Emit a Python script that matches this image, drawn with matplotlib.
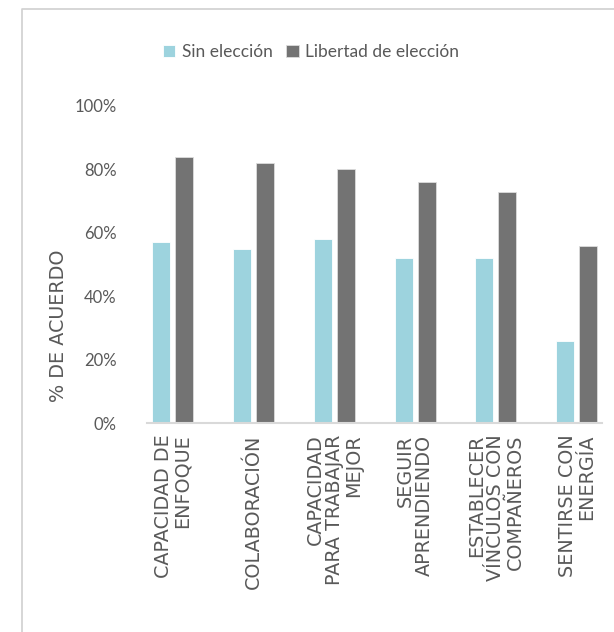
import numpy as np
import matplotlib.pyplot as plt
from matplotlib.lines import Line2D
from matplotlib.ticker import PercentFormatter

# ===== DATA =====
categories = [
    "CAPACIDAD DE\nENFOQUE",
    "COLABORACIÓN",
    "CAPACIDAD\nPARA TRABAJAR\nMEJOR",
    "SEGUIR\nAPRENDIENDO",
    "ESTABLECER\nVÍNCULOS CON\nCOMPAÑEROS",
    "SENTIRSE CON\nENERGÍA",
]
sin_eleccion = [57, 55, 58, 52, 52, 26]
libertad = [84, 82, 80, 76, 73, 56]
series_names = ["Sin elección", "Libertad de elección"]
y_ticks = [0, 20, 40, 60, 80, 100]

# ===== STYLE =====
plt.rcParams["font.family"] = ["Lato", "DejaVu Sans"]
text_color = "#595959"
light = "#9dd3de"
dark = "#737373"
caps_font = "DejaVu Sans"

fig = plt.figure(figsize=(6.14, 6.32), dpi=100)
ax = fig.add_axes([0.240, 0.330, 0.740, 0.5023])

x = np.arange(len(categories))
w = 0.223
off = 0.142
b1 = ax.bar(x - off, sin_eleccion, width=w, color=light, edgecolor="white", linewidth=0.6)
b2 = ax.bar(x + off, libertad, width=w, color=dark, edgecolor="#dddddd", linewidth=0.6)

ax.set_xlim(-0.315, len(categories) - 1 + 0.31)
ax.set_ylim(0, 100)
ax.set_yticks(y_ticks)
ax.yaxis.set_major_formatter(PercentFormatter(decimals=0))
ax.tick_params(axis="y", length=0, pad=22, labelsize=12, labelcolor=text_color)

ax.set_xticks(x)
ax.set_xticklabels(categories, rotation=90, ha="center", va="top",
                   multialignment="right", linespacing=1.0, family=caps_font,
                   fontsize=13.8)
ax.tick_params(axis="x", length=0, pad=8, labelcolor=text_color)

for s in ["top", "right", "left"]:
    ax.spines[s].set_visible(False)
ax.spines["bottom"].set_color("#d9d9d9")
ax.spines["bottom"].set_linewidth(1.5)

fig.text(0.095, 0.484, "% DE ACUERDO", rotation=90, ha="center", va="center",
         fontsize=13.8, color=text_color, family=caps_font)

fig.legend([b1, b2], series_names, loc="center", bbox_to_anchor=(0.5065, 0.918),
           ncol=2, frameon=False, fontsize=12.5, labelcolor=text_color,
           handlelength=0.7, handleheight=0.7, handletextpad=0.4, columnspacing=0.8)

# ===== FRAME =====
fig.add_artist(Line2D([0.036, 0.036, 1.0], [0.0, 0.985, 0.985],
                      transform=fig.transFigure, color="#d0d0d0", linewidth=1.2))

fig.savefig("out.png", dpi=100)
